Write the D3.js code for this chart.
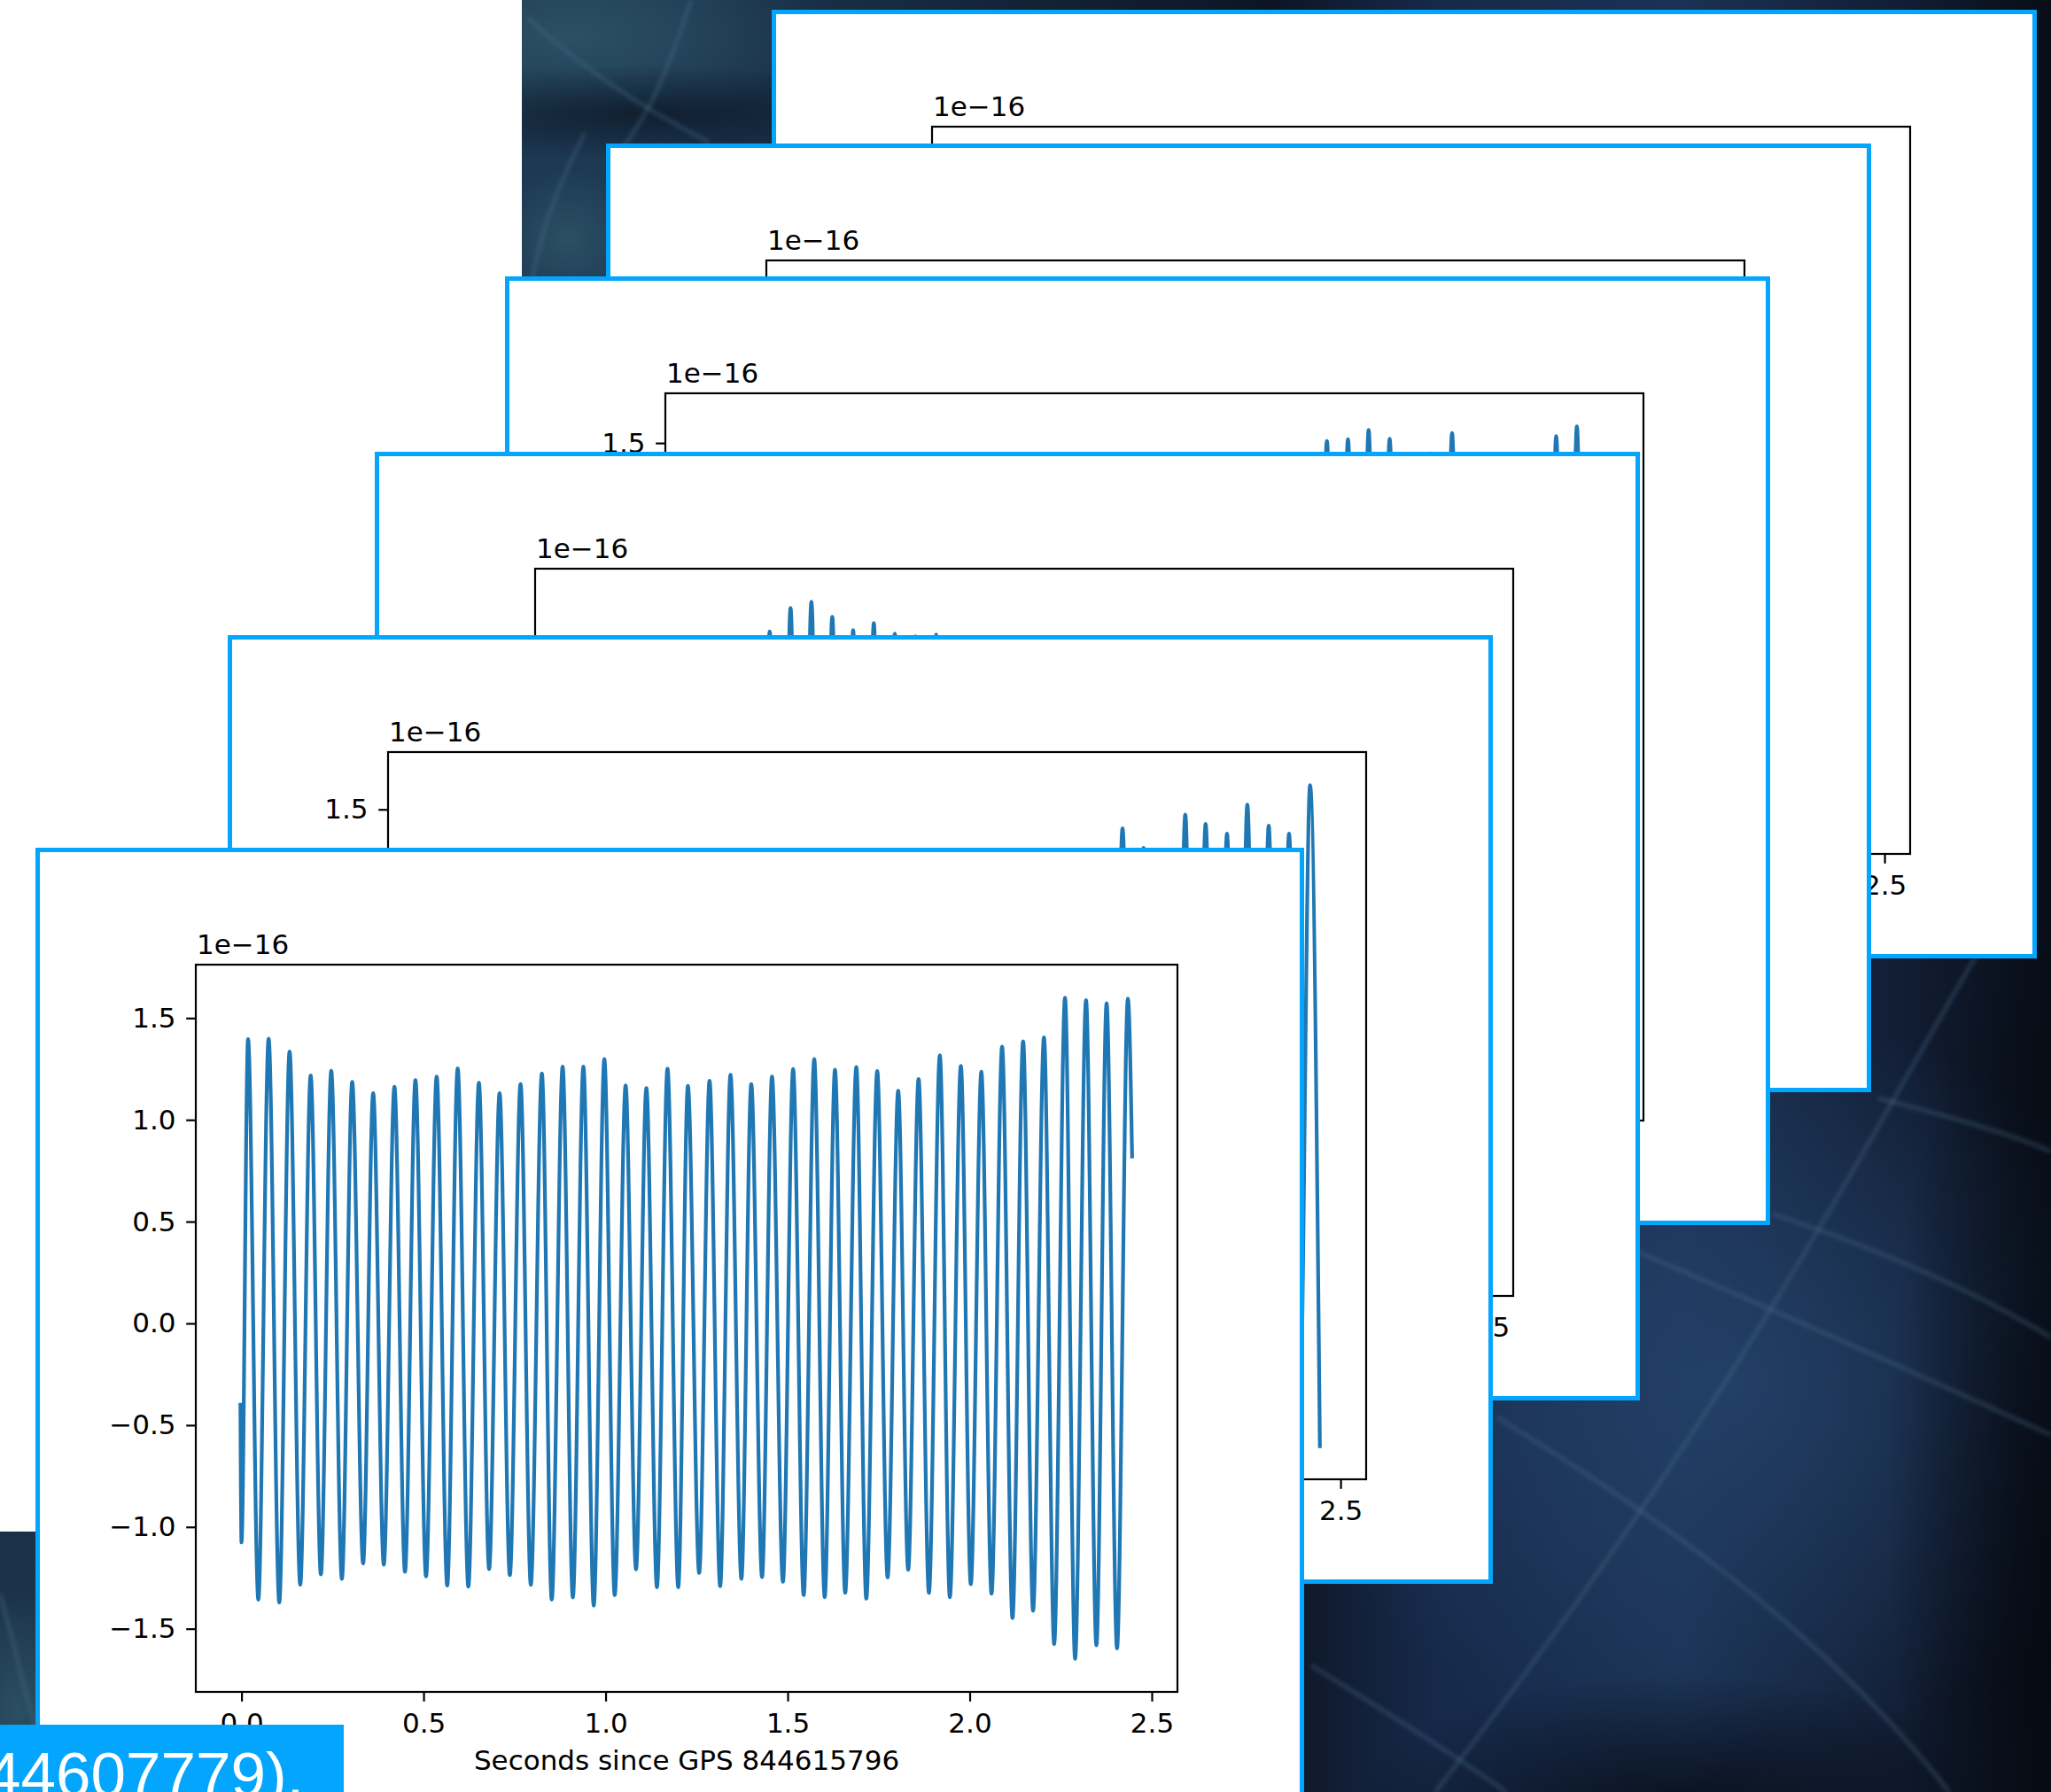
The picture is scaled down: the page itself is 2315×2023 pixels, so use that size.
<!DOCTYPE html>
<html><head><meta charset="utf-8">
<script src="https://cdn.jsdelivr.net/npm/d3@7"></script>
<style>html,body{margin:0;padding:0;background:#fff;overflow:hidden}svg{display:block}</style>
</head><body>
<svg id="c" width="2315" height="2023"></svg>
<script>
// ---------------- data ----------------
const xTicks = [0, 0.5, 1, 1.5, 2, 2.5];
const xTickLabels = ["0.0", "0.5", "1.0", "1.5", "2.0", "2.5"];
const yTicks = [-1.5, -1, -0.5, 0, 0.5, 1, 1.5];
const yTickLabels = ["\u22121.5", "\u22121.0", "\u22120.5", "0.0", "0.5", "1.0", "1.5"];
const offsetText = "1e\u221216";
const xAxisTitle = "Seconds since GPS 844615796";
const timeWindow = [-0.003, 2.448];
const captionText = "44607779).";

// front plot: strain extrema (x 1e-16) vs seconds
const frontTimes = [-0.003, 0.000, 0.018, 0.0462, 0.0745, 0.1037, 0.132, 0.1613, 0.190, 0.218, 0.2465, 0.2757,
  0.304, 0.334, 0.3616, 0.3908, 0.420, 0.449, 0.4777, 0.5068, 0.536, 0.565, 0.5937, 0.623, 0.652, 0.680,
  0.7088, 0.737, 0.7664, 0.7946, 0.825, 0.852, 0.882, 0.910, 0.939, 0.9674, 0.9966, 1.025, 1.055, 1.0835,
  1.112, 1.141, 1.170, 1.1995, 1.226, 1.257, 1.2854, 1.3146, 1.343, 1.373, 1.400, 1.4297, 1.457, 1.487,
  1.515, 1.544, 1.573, 1.6017, 1.630, 1.658, 1.6886, 1.716, 1.746, 1.7745, 1.8036, 1.831, 1.8596, 1.888,
  1.918, 1.9455, 1.9757, 2.003, 2.032, 2.06, 2.089, 2.1175, 2.1467, 2.174, 2.204, 2.232, 2.2618, 2.2895,
  2.3195, 2.348, 2.376, 2.4046, 2.4345, 2.446];
const frontValues = [-0.40, -1.076, 1.396, -1.357, 1.399, -1.371, 1.335, -1.284, 1.218, -1.233, 1.241, -1.255,
  1.186, -1.179, 1.131, -1.185, 1.163, -1.220, 1.195, -1.243, 1.213, -1.288, 1.253, -1.293, 1.182, -1.207,
  1.131, -1.237, 1.176, -1.284, 1.228, -1.357, 1.262, -1.346, 1.261, -1.386, 1.298, -1.335, 1.169, -1.208,
  1.156, -1.296, 1.252, -1.296, 1.167, -1.226, 1.192, -1.291, 1.221, -1.255, 1.176, -1.246, 1.213, -1.269,
  1.250, -1.335, 1.298, -1.345, 1.246, -1.324, 1.259, -1.352, 1.240, -1.248, 1.143, -1.210, 1.201, -1.324,
  1.317, -1.345, 1.265, -1.281, 1.236, -1.328, 1.359, -1.448, 1.386, -1.412, 1.405, -1.575, 1.600, -1.648,
  1.588, -1.582, 1.573, -1.597, 1.595, 0.82];

// 2nd plot from the front: visible tail section
const card5Times = [1.813, 1.842, 1.870, 1.899, 1.928, 1.957, 1.986, 2.015, 2.043, 2.072, 2.100, 2.128,
  2.158, 2.187, 2.215, 2.243, 2.273, 2.302, 2.330, 2.358, 2.387, 2.416, 2.443];
const card5Values = [-1.30, 1.22, -1.32, 1.406, -1.28, 1.31, -1.35, 1.24, -1.40, 1.474, -1.38, 1.428,
  -1.42, 1.38, -1.50, 1.524, -1.55, 1.42, -1.52, 1.38, -1.56, 1.62, -1.646];

// 3rd plot: visible early section
const card4Times = [0.005, 0.033, 0.0624, 0.091, 0.120, 0.149, 0.177, 0.206, 0.234, 0.263, 0.292, 0.321,
  0.349, 0.378, 0.406, 0.435, 0.464, 0.493, 0.521, 0.550, 0.5785, 0.607, 0.636, 0.665, 0.6935, 0.722,
  0.751, 0.780, 0.808, 0.837, 0.866, 0.895, 0.923, 0.952, 0.980, 1.009];
const card4Values = [1.40, -1.40, 1.57, -1.45, 1.42, -1.38, 1.36, -1.42, 1.38, -1.45, 1.44, -1.40,
  1.38, -1.44, 1.46, -1.50, 1.50, -1.48, 1.60, -1.55, 1.719, -1.60, 1.75, -1.58, 1.674, -1.52,
  1.606, -1.55, 1.642, -1.50, 1.588, -1.48, 1.575, -1.45, 1.584, -1.42];

// 4th plot: visible late section
const card3Times = [1.640, 1.669, 1.698, 1.727, 1.756, 1.785, 1.813, 1.842, 1.871, 1.900, 1.928, 1.957,
  1.985, 2.014, 2.043, 2.072, 2.100, 2.129, 2.157, 2.186, 2.215, 2.244, 2.272, 2.301, 2.330, 2.359,
  2.387, 2.416, 2.445];
const card3Values = [1.30, -1.32, 1.51, -1.40, 1.518, -1.36, 1.563, -1.45, 1.52, -1.38, 1.38, -1.30,
  1.45, -1.42, 1.548, -1.48, 1.40, -1.35, 1.36, -1.40, 1.41, -1.45, 1.42, -1.50, 1.533, -1.55,
  1.58, -1.60, 1.30];

// ---------------- layout / style ----------------
const W = 2315, H = 2023;
const BLUE = "#04a5fc";
const LINE = "#1f77b4";
const FONT = "'DejaVu Sans', sans-serif";
const FS = 31;
const cardH = 1071;
const cards = [
  {x: 871, y: 11, w: 1428, axR: 1285, times: null, values: null},
  {x: 684, y: 162, w: 1428, axR: 1285, times: null, values: null},
  {x: 570, y: 312, w: 1428, axR: 1285, times: card3Times, values: card3Values},
  {x: 423, y: 510, w: 1428, axR: 1285, times: card4Times, values: card4Values},
  {x: 257, y: 717, w: 1428, axR: 1285, times: card5Times, values: card5Values},
  {x: 40, y: 957, w: 1432, axR: 1289, times: frontTimes, values: frontValues}
];
const axL = 181, axT = 132, axB = 953;

const svg = d3.select("#c");
const defs = svg.append("defs");

// background
const lg = defs.append("linearGradient").attr("id", "bgLin")
  .attr("gradientUnits", "userSpaceOnUse").attr("x1", 0).attr("y1", 0).attr("x2", W).attr("y2", 0);
[[0, "#1a3149"], [0.3, "#1d3a55"], [0.62, "#0d1524"], [0.7, "#16294a"], [0.82, "#1b3254"], [0.93, "#111d33"], [1, "#080d16"]]
  .forEach(s => lg.append("stop").attr("offset", s[0]).attr("stop-color", s[1]));
function radial(id, color, op) {
  const r = defs.append("radialGradient").attr("id", id);
  r.append("stop").attr("offset", 0).attr("stop-color", color).attr("stop-opacity", op);
  r.append("stop").attr("offset", 1).attr("stop-color", color).attr("stop-opacity", 0);
}
radial("glow", "#24426a", 0.85);
radial("dark", "#05080f", 0.85);
radial("darkSoft", "#070c16", 0.6);
radial("teal", "#2d5266", 0.9);
defs.append("filter").attr("id", "soft").append("feGaussianBlur").attr("stdDeviation", 2);

svg.append("rect").attr("width", W).attr("height", H).attr("fill", "url(#bgLin)");
const deco = svg.append("g");
deco.append("ellipse").attr("cx", 1950).attr("cy", 1560).attr("rx", 520).attr("ry", 420).attr("fill", "url(#glow)");
deco.append("ellipse").attr("cx", 1560).attr("cy", 1230).attr("rx", 260).attr("ry", 330).attr("fill", "url(#dark)");
deco.append("ellipse").attr("cx", 2330).attr("cy", 1700).attr("rx", 200).attr("ry", 700).attr("fill", "url(#dark)");
deco.append("ellipse").attr("cx", 1900).attr("cy", 2050).attr("rx", 380).attr("ry", 160).attr("fill", "url(#dark)");
deco.append("ellipse").attr("cx", 640).attr("cy", 40).attr("rx", 300).attr("ry", 110).attr("fill", "url(#teal)");
deco.append("ellipse").attr("cx", 720).attr("cy", 128).attr("rx", 300).attr("ry", 55).attr("fill", "url(#darkSoft)");
deco.append("ellipse").attr("cx", 640).attr("cy", 270).attr("rx", 90).attr("ry", 80).attr("fill", "url(#teal)");
deco.append("ellipse").attr("cx", 20).attr("cy", 1930).attr("rx", 90).attr("ry", 140).attr("fill", "url(#teal)");
const curves = [
  "M595,20 C640,60 700,110 800,160",
  "M780,0 C760,60 740,120 700,170",
  "M660,150 C630,210 610,260 600,320",
  "M2230,1080 C2100,1300 1950,1600 1620,2023",
  "M1480,1260 C1650,1330 1900,1430 2315,1620",
  "M1690,1600 C1850,1700 2050,1830 2200,2023",
  "M1480,1880 C1560,1930 1640,1980 1700,2023",
  "M2000,1370 C2150,1420 2250,1470 2315,1510",
  "M2120,1240 C2200,1260 2270,1280 2315,1300",
  "M1480,1130 C1560,1120 1620,1110 1700,1100",
  "M0,1800 C15,1850 25,1900 40,1950"
];
deco.selectAll("path.c").data(curves).join("path")
  .attr("d", d => d).attr("fill", "none").attr("stroke", "#4a6a88").attr("stroke-opacity", 0.35)
  .attr("stroke-width", 5).attr("filter", "url(#soft)");

// white panel on the left
svg.append("rect").attr("x", 0).attr("y", 0).attr("width", 589).attr("height", 1729).attr("fill", "#fff");

function pad(ext) {
  const r = ext[1] - ext[0];
  return [ext[0] - 0.05 * r, ext[1] + 0.05 * r];
}

const groups = [];
cards.forEach((c, i) => {
  const g = svg.append("g").attr("transform", `translate(${c.x},${c.y})`);
  groups.push(g);
  g.append("rect").attr("x", 2.5).attr("y", 2.5).attr("width", c.w - 5).attr("height", cardH - 5)
    .attr("fill", "#fff").attr("stroke", BLUE).attr("stroke-width", 5);

  const vals = c.values || frontValues;
  const x = d3.scaleLinear().domain(pad(timeWindow)).range([axL, c.axR]);
  const y = d3.scaleLinear().domain(pad(d3.extent(vals))).range([axB, axT]);

  defs.append("clipPath").attr("id", "clip" + i).append("rect")
    .attr("x", axL).attr("y", axT).attr("width", c.axR - axL).attr("height", axB - axT);

  if (c.times) {
    const pts = d3.zip(c.times, c.values);
    g.append("path").datum(pts)
      .attr("clip-path", `url(#clip${i})`)
      .attr("d", d3.line().x(d => x(d[0])).y(d => y(d[1])).curve(d3.curveMonotoneX))
      .attr("fill", "none").attr("stroke", LINE).attr("stroke-width", 4.2)
      .attr("stroke-linejoin", "round").attr("stroke-linecap", "square");
  }

  const xa = g.append("g").attr("transform", `translate(0,${axB})`)
    .call(d3.axisBottom(x).tickValues(xTicks).tickFormat((d, k) => xTickLabels[k])
      .tickSize(10.8).tickSizeOuter(0).tickPadding(13.5));
  const ya = g.append("g").attr("transform", `translate(${axL},0)`)
    .call(d3.axisLeft(y).tickValues(yTicks).tickFormat((d, k) => yTickLabels[k])
      .tickSize(10.8).tickSizeOuter(0).tickPadding(11.7));
  [xa, ya].forEach(a => {
    a.select(".domain").remove();
    a.selectAll("line").attr("stroke", "#000").attr("stroke-width", 2.2);
    a.selectAll("text").attr("fill", "#000").style("font-family", FONT).style("font-size", FS + "px");
  });

  g.append("rect").attr("x", axL).attr("y", axT).attr("width", c.axR - axL).attr("height", axB - axT)
    .attr("fill", "none").attr("stroke", "#000").attr("stroke-width", 2.2);

  g.append("text").attr("x", axL + 1).attr("y", axT - 12.5).text(offsetText)
    .attr("fill", "#000").style("font-family", FONT).style("font-size", FS + "px");
  g.append("text").attr("x", (axL + c.axR) / 2).attr("y", axB + 88).attr("text-anchor", "middle")
    .text(xAxisTitle).attr("fill", "#000").style("font-family", FONT).style("font-size", FS + "px");
});

// texts of the back plots that lie entirely under a plot stacked in front are never seen: drop them
groups.forEach((g, i) => {
  g.selectAll("text").each(function () {
    const b = this.getBoundingClientRect();
    const hidden = cards.slice(i + 1).some(c =>
      b.left >= c.x && b.right <= c.x + c.w && b.top >= c.y && b.bottom <= c.y + cardH);
    if (hidden) d3.select(this).remove();
  });
});

// caption strip
svg.append("rect").attr("x", 0).attr("y", 1947).attr("width", 388).attr("height", H - 1947).attr("fill", BLUE);
svg.append("text").attr("x", -16).attr("y", 2028).text(captionText)
  .attr("fill", "#fff").style("font-family", "'Liberation Sans', Arial, sans-serif").style("font-size", "71px");
</script>
</body></html>
